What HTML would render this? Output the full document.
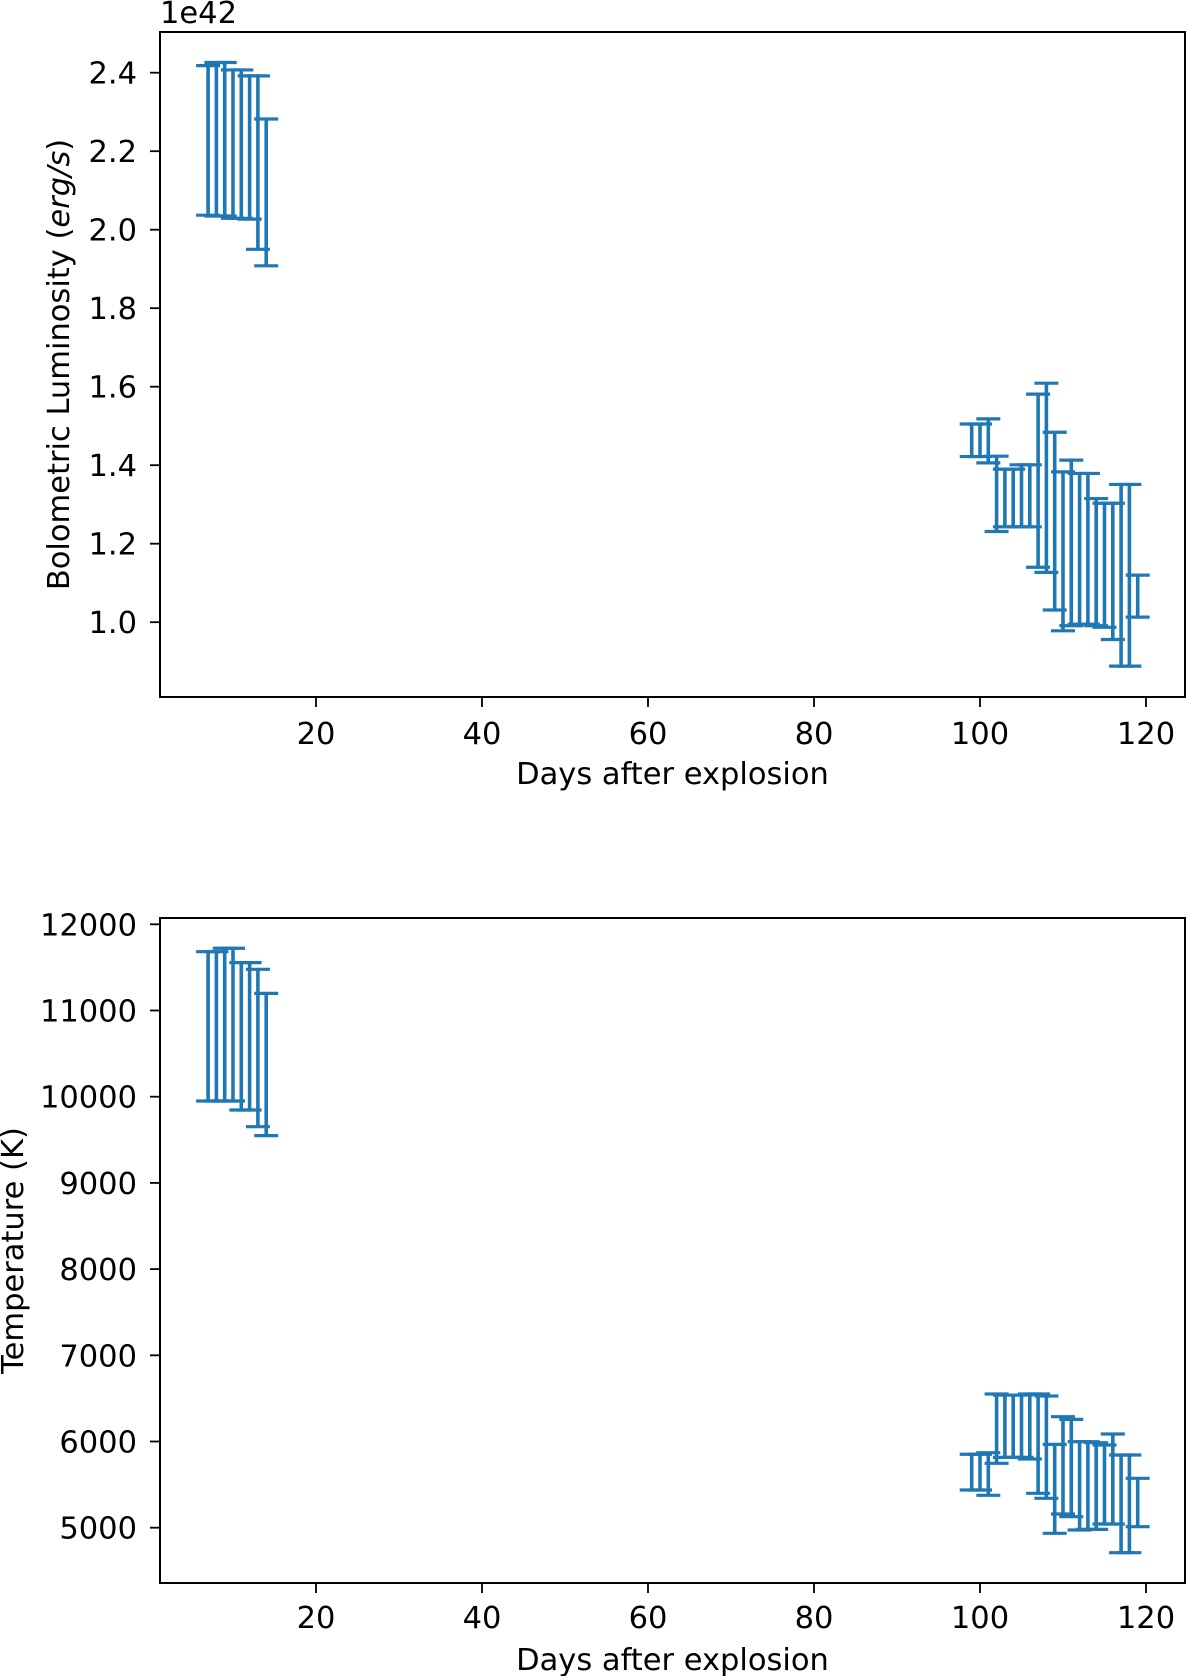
<!DOCTYPE html>
<html><head><meta charset="utf-8"><style>
html,body{margin:0;padding:0;background:#fff;}
svg{display:block;font-family:"DejaVu Sans","Liberation Sans",sans-serif;}
</style></head><body>
<svg id="fig" width="1200" height="1676" viewBox="0 0 1200 1676" xmlns="http://www.w3.org/2000/svg"></svg>
<script>
const days = [7,8,9,10,11,12,13,14,99,100,101,102,103,104,105,106,107,108,109,110,111,112,113,114,115,116,117,118,119];
const lumHigh = [2.418,2.426,2.426,2.407,2.407,2.392,2.392,2.282,1.505,1.505,1.518,1.423,1.390,1.390,1.401,1.401,1.581,1.609,1.484,1.383,1.413,1.379,1.379,1.315,1.303,1.303,1.351,1.351,1.120];
const lumLow = [2.037,2.035,2.035,2.029,2.029,2.027,1.950,1.908,1.422,1.422,1.406,1.231,1.243,1.243,1.243,1.243,1.140,1.127,1.031,0.978,0.991,0.995,0.995,0.991,0.987,0.956,0.888,0.888,1.013];
const tempHigh = [11682,11682,11722,11722,11555,11555,11478,11199,5852,5852,5870,6551,6539,6539,6539,6551,6551,6528,5967,6288,6257,5998,5998,5986,5959,6087,5843,5843,5573];
const tempLow = [9950,9950,9950,9950,9846,9846,9652,9548,5437,5437,5376,5747,5816,5816,5816,5797,5399,5341,4935,5159,5128,4973,4981,4981,5043,5043,4710,4710,5012];
const xTicks = [20,40,60,80,100,120];
const lumTicks = [1.0,1.2,1.4,1.6,1.8,2.0,2.2,2.4];
const lumTickLabels = ["1.0","1.2","1.4","1.6","1.8","2.0","2.2","2.4"];
const tempTicks = [5000,6000,7000,8000,9000,10000,11000,12000];

const NS="http://www.w3.org/2000/svg";
const svg=document.getElementById('fig');
const FS='30.5';
function mk(tag,attrs,parent,text){const e=document.createElementNS(NS,tag);for(const k in attrs)e.setAttribute(k,attrs[k]);if(text!==undefined)e.textContent=text;(parent||svg).appendChild(e);return e;}
const X0=160,X1=1185;
function xs(d){return 150+d*8.3;}

function panel(name,top,bottom,yFn,ticks,labels,hi,lo,ylabel,ylx,xlabY,tickLabY){
  const g=mk('g',{});
  
  
  const sg=mk('g',{stroke:'#1f77b4','stroke-width':'3.2',fill:'none'},g);
  
  
  for(let i=0;i<days.length;i++){
    const x=xs(days[i]),y1=yFn(hi[i]),y2=yFn(lo[i]);
    const b=mk('g',{},sg);
    
    
    mk('line',{x1:x,x2:x,y1:y1,y2:y2,'stroke-width':'3.6'},b);
    mk('line',{x1:x-12,x2:x+12,y1:y1,y2:y1},b);
    mk('line',{x1:x-12,x2:x+12,y1:y2,y2:y2},b);
  }
  const fr=mk('rect',{x:X0,y:top,width:X1-X0,height:bottom-top,fill:'none',stroke:'#000','stroke-width':'2'},g);
  
  
  const xa=mk('g',{},g);
  
  
  xTicks.forEach(t=>{const x=xs(t);mk('line',{x1:x,x2:x,y1:bottom,y2:bottom+10,stroke:'#000','stroke-width':'1.8'},xa);
    const tl=mk('text',{x:x,y:tickLabY,'font-size':FS,'text-anchor':'middle'},xa,String(t));
    
    });
  const xl=mk('text',{x:(X0+X1)/2,y:xlabY,'font-size':FS,'text-anchor':'middle'},g,'Days after explosion');
  
  
  const ya=mk('g',{},g);
  
  
  ticks.forEach((t,i)=>{const y=yFn(t);mk('line',{x1:X0-10,x2:X0,y1:y,y2:y,stroke:'#000','stroke-width':'1.8'},ya);
    const tl=mk('text',{x:137,y:y+11,'font-size':FS,'text-anchor':'end'},ya,labels[i]);
    
    });
  const yl=mk('text',{x:0,y:0,'font-size':FS,'text-anchor':'middle',transform:`translate(${ylx},${(top+bottom)/2}) rotate(-90)`},g);
  
  
  ylabel(yl);
}
panel('luminosity-panel',32,697,v=>229.7-(v-2.0)*392.5,lumTicks,lumTickLabels,lumHigh,lumLow,
  el=>{mk('tspan',{},el,'Bolometric Luminosity (');mk('tspan',{'font-style':'italic'},el,'erg/s');mk('tspan',{},el,')');},
  69,784,744);
panel('temperature-panel',918,1583,v=>1096.7-(v-10000)*0.0862,tempTicks,tempTicks.map(String),tempHigh,tempLow,
  el=>{el.textContent='Temperature (K)';},23,1670,1628);
const off=mk('text',{x:160,y:23,'font-size':FS},svg,'1e42');


</script>
</body></html>
